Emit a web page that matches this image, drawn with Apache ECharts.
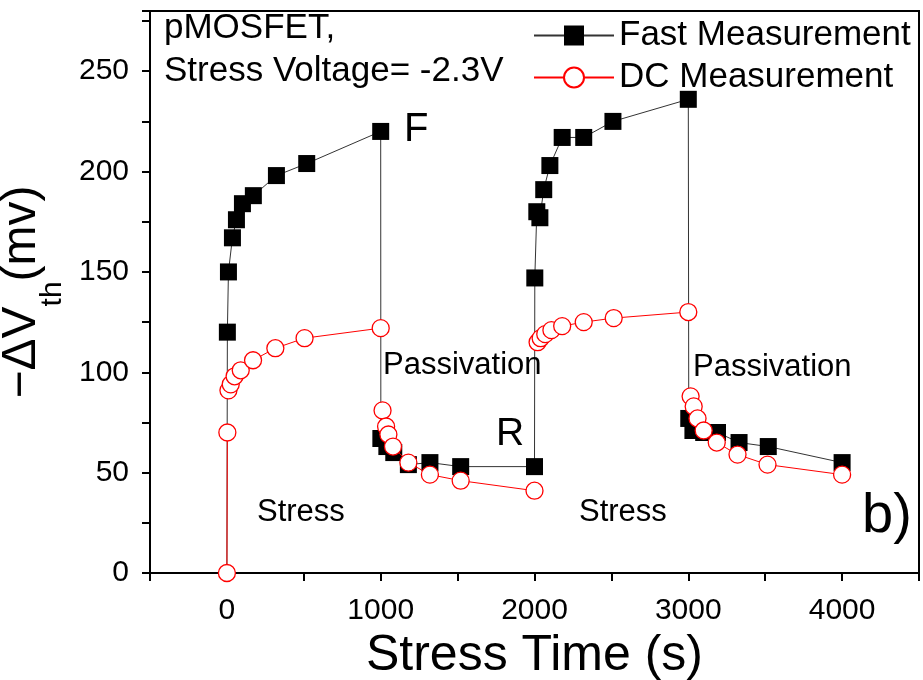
<!DOCTYPE html>
<html>
<head>
<meta charset="UTF-8">
<title>pMOSFET threshold voltage shift</title>
<script src="https://cdn.jsdelivr.net/npm/echarts@6/dist/echarts.min.js"></script>
<style>
html, body { margin: 0; padding: 0; background: #fff; }
#chart { width: 923px; height: 680px; }
</style>
</head>
<body>
<div id="chart"></div>
<script>
// stress time (s) , -dVth (mV)
var fastOrigin  = [0, 0];
var fastStress1 = [[3,120],[10,150],[36,167],[62,176],[101,184],[172,188],[322,198],[519,204],[1000,220]];
var fastPass1   = [[1001,67],[1040,63],[1085,60],[1180,54],[1320,55],[1520,53],[2000,53]];
var fastStress2 = [[2002,147],[2015,180],[2035,177],[2060,191],[2100,203],[2180,217],[2320,217],[2510,225],[3000,236]];
var fastPass2   = [[3003,77],[3030,71],[3100,70],[3190,70],[3330,65],[3520,63],[4000,55]];

var dcOrigin  = [[0,0],[3,70]];
var dcStress1 = [[10,91],[25,94],[50,98],[90,101],[170,106],[315,112],[505,117],[1000,122]];
var dcPass1   = [[1012,81],[1035,73],[1050,69],[1080,63],[1180,55],[1320,49],[1520,46],[2000,41]];
var dcStress2 = [[2020,115],[2040,117],[2070,119],[2110,121],[2180,123],[2320,125],[2515,127],[3000,130]];
var dcPass2   = [[3015,88],[3035,83],[3060,77],[3100,71],[3185,65],[3320,59],[3515,54],[4000,49]];

var xTicks = [0, 1000, 2000, 3000, 4000];
var yTicks = [0, 50, 100, 150, 200, 250];

var FONT = 'Liberation Sans, Arial, sans-serif';
var GAP = ['-', '-'];

// fast measurement: one connected trace, first point drawn without marker
var fastData = [{ value: fastOrigin, symbol: 'none' }]
	.concat(fastStress1, fastPass1, fastStress2, fastPass2);
// DC measurement: separate segments for each phase
var dcData = dcOrigin.concat([GAP], dcStress1, [GAP], dcPass1, [GAP], dcStress2, [GAP], dcPass2);

function txt(s, x, y, size) {
	return {
		type: 'text', left: x, top: y, z: 100,
		style: { text: s, fill: '#000', font: size + 'px ' + FONT }
	};
}

var chart = echarts.init(document.getElementById('chart'));
var option = {
	backgroundColor: '#fff',
	animation: false,
	textStyle: { fontFamily: FONT },
	grid: {
		left: 150, right: 4, top: 11, bottom: 107,
		containLabel: false, outerBoundsMode: 'none',
		show: true, borderColor: '#000', borderWidth: 2
	},
	legend: {
		orient: 'vertical', left: 528, top: 13,
		itemWidth: 80, itemHeight: 25, itemGap: 7, itemTextGap: 12,
		textStyle: { fontSize: 35, color: '#000', lineHeight: 35, fontFamily: FONT },
		data: ['Fast Measurement', 'DC Measurement']
	},
	xAxis: {
		type: 'value', min: -500, max: 4500, interval: 500,
		name: 'Stress Time (s)', nameLocation: 'middle', nameGap: 48,
		nameTextStyle: { fontSize: 50, color: '#000', fontFamily: FONT },
		axisLine: { onZero: false, lineStyle: { color: '#000', width: 2 } },
		axisTick: { inside: false, length: 8, lineStyle: { color: '#000', width: 2 } },
		axisLabel: {
			fontSize: 30, color: '#000', margin: 23, fontFamily: FONT,
			formatter: function (v) { return xTicks.indexOf(v) >= 0 ? String(v) : ''; }
		},
		splitLine: { show: false }
	},
	yAxis: {
		type: 'value', min: 0, max: 280, interval: 25,
		name: '{a|\u2212\u0394V}{s|th}{a|(mv)}', nameLocation: 'middle', nameGap: 73,
		nameTextStyle: {
			color: '#000', fontFamily: FONT,
			rich: {
				a: { fontSize: 48, lineHeight: 48, verticalAlign: 'top', fontFamily: FONT, color: '#000' },
				s: { fontSize: 30, lineHeight: 30, verticalAlign: 'top', padding: [40, 0, 0, 0], fontFamily: FONT, color: '#000' }
			}
		},
		axisLine: { onZero: false, lineStyle: { color: '#000', width: 2 } },
		axisTick: { inside: false, length: 8, lineStyle: { color: '#000', width: 2 } },
		axisLabel: {
			fontSize: 30, color: '#000', margin: 21, fontFamily: FONT,
			formatter: function (v) { return yTicks.indexOf(v) >= 0 ? String(v) : ''; }
		},
		splitLine: { show: false }
	},
	graphic: [
		txt('pMOSFET,', 164, 11, 35),
		txt('Stress Voltage= -2.3V', 164, 54, 35),
		txt('F', 404, 110, 40),
		txt('R', 496, 415, 39),
		txt('Passivation', 383, 350, 31),
		txt('Passivation', 693, 352, 31),
		txt('Stress', 257, 497, 31),
		txt('Stress', 579, 497, 31),
		txt('b)', 862, 489, 56)
	],
	series: [
		{
			name: 'Fast Measurement',
			type: 'line',
			data: fastData,
			symbol: 'rect', symbolSize: 17,
			color: '#000',
			itemStyle: { color: '#000' },
			lineStyle: { color: '#333', width: 1 },
			z: 2
		},
		{
			name: 'DC Measurement',
			type: 'line',
			data: dcData,
			connectNulls: false,
			symbol: 'circle', symbolSize: 17,
			color: '#ff0000',
			itemStyle: { color: '#fff', borderColor: '#ff0000', borderWidth: 1.3 },
			lineStyle: { color: '#ff0000', width: 1 },
			z: 3
		}
	]
};
chart.setOption(option);
</script>
</body>
</html>
